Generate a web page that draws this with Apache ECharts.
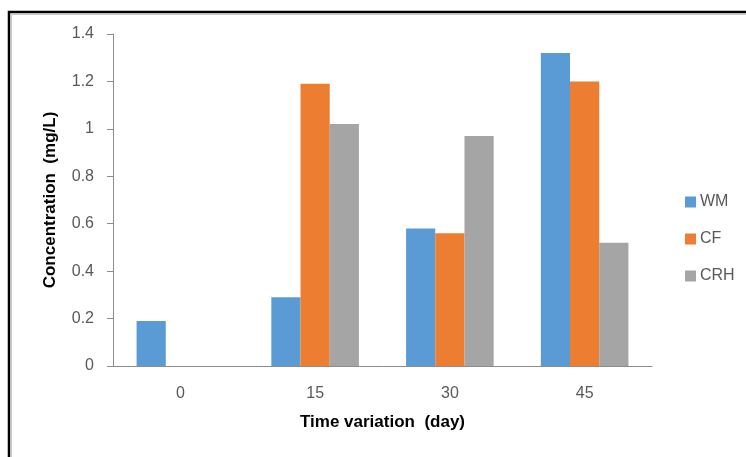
<!DOCTYPE html>
<html>
<head>
<meta charset="utf-8">
<script src="https://cdn.jsdelivr.net/npm/echarts@6/dist/echarts.min.js"></script>
<style>
  html, body { margin: 0; padding: 0; background: #fff; }
  #chart { width: 746px; height: 457px; }
</style>
</head>
<body>
<div id="chart"></div>
<script>
// Sampling days and measured concentrations (mg/L) per treatment
const days = ['0', '15', '30', '45'];
const wmValues = [0.19, 0.29, 0.58, 1.32];
const cfValues = [0, 1.19, 0.56, 1.20];
const crhValues = [0, 1.02, 0.97, 0.52];
const seriesNames = ['WM', 'CF', 'CRH'];
const seriesColors = ['#5B9BD5', '#ED7D31', '#A5A5A5'];

const font = '"Liberation Sans", Arial, sans-serif';
const textGray = '#595959';
const axisGray = '#8C8C8C';

const chart = echarts.init(document.getElementById('chart'), null, { renderer: 'canvas' });

const values = [wmValues, cfValues, crhValues];

chart.setOption({
  backgroundColor: '#ffffff',
  animation: false,
  graphic: [
    // outer frame (open on the right and bottom edges)
    { type: 'rect', shape: { x: 9, y: 12, width: 900, height: 600 },
      style: { fill: 'none', stroke: '#000', lineWidth: 2.5 }, silent: true },
    { type: 'rect', shape: { x: 11.5, y: 14.5, width: 900, height: 600 },
      style: { fill: 'none', stroke: '#C8C8C8', lineWidth: 1 }, silent: true }
  ],
  grid: { left: 113, right: 94, top: 34, bottom: 91, containLabel: false },
  legend: {
    orient: 'vertical',
    left: 680,
    top: 189,
    itemWidth: 11,
    itemHeight: 11,
    itemGap: 21,
    icon: 'rect',
    data: seriesNames,
    textStyle: { fontFamily: font, fontSize: 16, color: textGray, padding: [0, 0, 0, -1] }
  },
  xAxis: {
    type: 'category',
    data: days,
    name: 'Time variation  (day)',
    nameLocation: 'middle',
    nameGap: 48,
    nameTextStyle: { fontFamily: font, fontSize: 17, fontWeight: 'bold', color: '#000' },
    axisLine: { show: true, lineStyle: { color: axisGray, width: 1 } },
    axisTick: { show: false },
    axisLabel: { fontFamily: font, fontSize: 16, color: textGray, margin: 20 }
  },
  yAxis: {
    type: 'value',
    min: 0,
    max: 1.4,
    interval: 0.2,
    name: 'Concentration  (mg/L)',
    nameLocation: 'middle',
    nameGap: 54,
    nameTextStyle: { fontFamily: font, fontSize: 17, fontWeight: 'bold', color: '#000' },
    axisLine: { show: true, lineStyle: { color: axisGray, width: 1 } },
    axisTick: { show: true, length: 6, lineStyle: { color: axisGray } },
    axisLabel: { fontFamily: font, fontSize: 16, color: textGray, margin: 19 },
    splitLine: { show: false }
  },
  series: seriesNames.map((name, i) => ({
    name: name,
    type: 'bar',
    data: values[i],
    barGap: '0%',
    barCategoryGap: '35%',
    itemStyle: { color: seriesColors[i] }
  }))
});
</script>
</body>
</html>
